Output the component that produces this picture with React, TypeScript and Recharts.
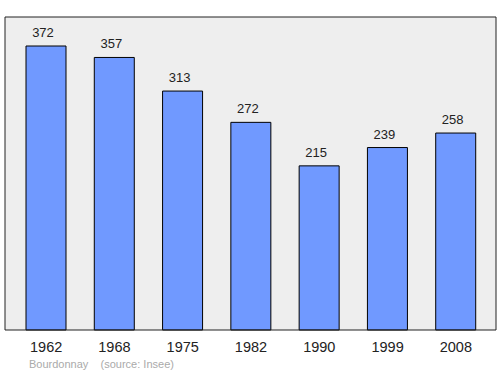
import React from "react";
import { BarChart, Bar, XAxis, YAxis, CartesianGrid, LabelList, Label } from "recharts";

const years = ["1962", "1968", "1975", "1982", "1990", "1999", "2008"];
const population = [372, 357, 313, 272, 215, 239, 258];
const footer = "Bourdonnay    (source: Insee)";

const data = years.map((year, i) => ({ year, pop: population[i] }));

const font = "'Liberation Sans', Arial, sans-serif";
const frame = { stroke: "#222", strokeWidth: 1 };

export default function App() {
  return (
    <div style={{ position: "absolute", left: 0, top: 0, width: 500, height: 374, fontFamily: font }}>
      <BarChart
        width={500}
        height={374}
        data={data}
        margin={{ top: 16, right: 3, left: 4, bottom: 14 }}
      >
        <CartesianGrid fill="#eeeeee" horizontal={false} vertical={false} />
        <XAxis
          dataKey="year"
          height={30}
          axisLine={frame}
          tickLine={false}
          padding={{ left: 7, right: 6 }}
          tick={{ fill: "#222", fontSize: 14.5, fontFamily: font }}
          dy={4}
        >
          <Label
            content={() => (
              <text x={29} y={368} fill="#aaaaaa" fontSize={11} fontFamily={font} xmlSpace="preserve">
                {footer}
              </text>
            )}
          />
        </XAxis>
        <XAxis xAxisId="top" dataKey="year" orientation="top" height={1} axisLine={frame} tick={false} tickLine={false} />
        <YAxis domain={[0, 410]} width={1} axisLine={frame} tick={false} tickLine={false} />
        <YAxis yAxisId="r" orientation="right" domain={[0, 410]} width={1} axisLine={frame} tick={false} tickLine={false} />
        <Bar dataKey="pop" fill="#7099ff" stroke="#000" strokeWidth={1} barSize={40} isAnimationActive={false}>
          <LabelList
            dataKey="pop"
            position="top"
            offset={9}
            dx={-3}
            style={{ fill: "#222", fontSize: 13, fontFamily: font }}
          />
        </Bar>
      </BarChart>
    </div>
  );
}
